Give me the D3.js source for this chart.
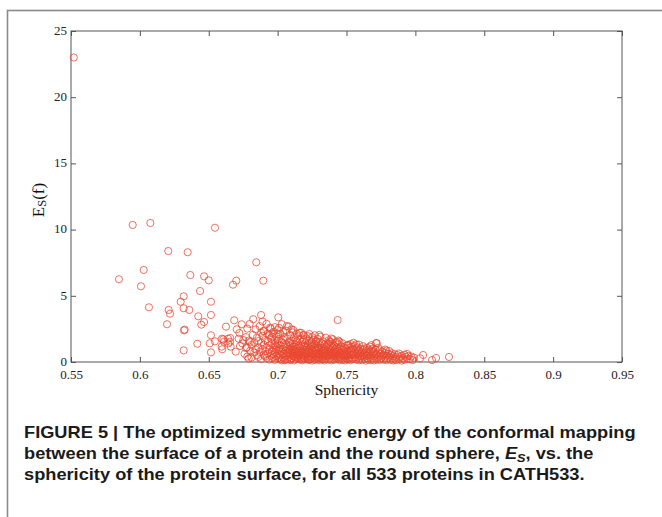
<!DOCTYPE html>
<html><head><meta charset="utf-8">
<script src="https://cdn.jsdelivr.net/npm/d3@7"></script>
<style>html,body{margin:0;padding:0;background:#fff;}svg{display:block;}</style>
</head><body>
<svg id="chart" width="662" height="517"></svg>
<script>
// ---------- data ----------
const xTicks = [0.55, 0.6, 0.65, 0.7, 0.75, 0.8, 0.85, 0.9, 0.95];
const yTicks = [0, 5, 10, 15, 20, 25];
const xLabel = "Sphericity";

// [sphericity, E_S(f)]
const outlierPoints = [[0.552,23.0]];
const sparsePoints = [
[0.5948,10.35],[0.6076,10.5],[0.6545,10.14],[0.6206,8.38],[0.6347,8.29],[0.6845,7.53],
[0.6028,6.95],[0.5848,6.25],[0.6366,6.57],[0.6008,5.72],[0.6466,6.47],[0.650,6.17],
[0.670,6.14],[0.6676,5.84],[0.6896,6.14],[0.6437,5.36],[0.6318,4.96],[0.6296,4.55],[0.6516,4.55],
[0.6066,4.13],[0.6209,3.93],[0.6219,3.65],[0.6318,4.06],[0.6359,3.93],[0.6424,3.45],
[0.6516,3.55],[0.6466,3.02],[0.6446,2.82],[0.6197,2.85],[0.6325,2.44],[0.6320,2.39],
[0.6685,3.15],[0.6739,2.85],[0.6625,2.67],[0.6722,2.19],[0.6823,3.23],[0.6797,2.87],
[0.678,2.52],[0.6516,2.02],[0.6606,1.71],[0.6545,1.56],[0.6417,1.38],[0.6507,1.41],
[0.6318,0.88],[0.6516,0.73],[0.6594,1.16],[0.6656,1.81],[0.6642,1.41],[0.6696,0.78],
[0.6744,1.41],[0.6717,1.76],[0.6727,1.21],[0.6751,1.66],[0.6776,1.11],[0.6799,1.53],
[0.6596,1.76],[0.6611,1.53],[0.664,1.76],[0.6654,1.53],[0.6598,0.96],[0.6659,1.16],
[0.6703,2.47],[0.688,3.55],[0.7005,3.37],[0.7436,3.17],[0.6945,2.59],[0.6896,2.34],
[0.7066,2.72],[0.7114,2.42],[0.7157,2.21],[0.7186,2.04],[0.7302,2.04],[0.6964,2.17],
[0.7005,2.11],[0.7247,1.53],[0.738,1.53],[0.7448,1.53],[0.7513,1.28],[0.7714,1.43]
];
const bandPoints = [
[0.676,0.62],[0.677,1.05],[0.678,0.41],[0.679,1.62],[0.680,0.85],[0.681,1.28],[0.681,0.33],[0.682,2.05],[0.683,0.71],[0.683,1.47],[0.684,0.95],[0.684,2.46],[0.685,0.52],[0.685,1.83],[0.677,1.88],[0.679,0.26],
[0.686,0.38],[0.686,1.12],[0.687,0.77],[0.687,2.71],[0.688,1.45],[0.688,0.22],[0.689,0.96],[0.689,1.98],[0.690,0.55],[0.690,1.31],[0.690,2.33],[0.691,0.81],[0.691,1.66],[0.692,0.31],[0.692,1.08],[0.692,2.88],[0.693,0.64],[0.693,1.52],[0.693,2.14],[0.694,0.92],[0.694,0.18],[0.694,1.24],[0.695,0.47],[0.695,1.79],[0.695,2.52],[0.689,3.05],[0.691,0.42],[0.686,1.58],[0.688,2.21],[0.694,2.02],
[0.696,0.29],[0.696,0.83],[0.696,1.41],[0.697,0.58],[0.697,1.07],[0.697,2.28],[0.698,0.16],[0.698,0.74],[0.698,1.63],[0.698,2.63],[0.699,0.45],[0.699,1.19],[0.699,1.95],[0.700,0.27],[0.700,0.88],[0.700,1.36],[0.700,2.41],[0.701,0.62],[0.701,1.02],[0.701,1.74],[0.702,0.21],[0.702,0.51],[0.702,1.27],[0.702,2.12],[0.703,0.79],[0.703,1.49],[0.703,2.86],[0.704,0.35],[0.704,0.97],[0.704,1.68],[0.704,2.27],[0.705,0.14],[0.705,0.66],[0.705,1.15],[0.705,1.89],[0.697,0.38],[0.699,0.94],[0.701,0.33],[0.703,0.12],[0.700,1.58],[0.702,0.92],[0.704,0.57],[0.696,1.92],[0.698,1.28],[0.701,2.58],
[0.706,0.43],[0.706,0.87],[0.706,1.34],[0.706,2.37],[0.707,0.21],[0.707,0.69],[0.707,1.11],[0.707,1.76],[0.708,0.37],[0.708,0.98],[0.708,1.48],[0.708,2.68],[0.709,0.15],[0.709,0.58],[0.709,1.22],[0.709,2.05],[0.710,0.31],[0.710,0.79],[0.710,1.04],[0.710,1.61],[0.711,0.47],[0.711,0.92],[0.711,1.38],[0.711,2.24],[0.712,0.12],[0.712,0.64],[0.712,1.17],[0.712,1.85],[0.713,0.39],[0.713,0.83],[0.713,1.29],[0.713,0.24],[0.714,0.55],[0.714,1.01],[0.714,1.57],[0.714,2.13],[0.715,0.28],[0.715,0.73],[0.715,1.21],[0.715,1.94],[0.706,0.18],[0.707,0.52],[0.708,0.76],[0.709,0.89],[0.710,0.22],[0.710,2.47],[0.711,0.67],[0.712,0.42],[0.712,0.96],[0.713,1.66],[0.714,0.33],[0.714,0.78],[0.715,0.49],[0.709,1.43],[0.711,1.14],
[0.716,0.19],[0.716,0.61],[0.716,1.08],[0.716,1.71],[0.717,0.36],[0.717,0.86],[0.717,1.33],[0.717,2.21],[0.718,0.13],[0.718,0.52],[0.718,0.97],[0.718,1.52],[0.719,0.29],[0.719,0.74],[0.719,1.18],[0.719,2.02],[0.720,0.45],[0.720,0.91],[0.720,1.41],[0.720,0.21],[0.721,0.63],[0.721,1.06],[0.721,1.78],[0.721,0.34],[0.722,0.17],[0.722,0.82],[0.722,1.26],[0.722,0.54],[0.723,0.41],[0.723,0.99],[0.723,1.61],[0.723,2.11],[0.724,0.26],[0.724,0.68],[0.724,1.14],[0.724,1.46],[0.725,0.11],[0.725,0.57],[0.725,0.94],[0.725,1.88],[0.716,0.44],[0.717,0.71],[0.718,1.24],[0.719,0.48],[0.720,0.66],[0.721,0.92],[0.722,0.31],[0.723,0.76],[0.724,0.39],[0.725,1.29],[0.719,1.66],[0.722,1.95],[0.717,0.24],[0.720,1.17],[0.723,0.18],
[0.726,0.35],[0.726,0.78],[0.726,1.21],[0.726,1.67],[0.727,0.16],[0.727,0.61],[0.727,1.03],[0.727,2.02],[0.728,0.44],[0.728,0.89],[0.728,1.37],[0.728,0.23],[0.729,0.68],[0.729,1.12],[0.729,1.74],[0.729,0.38],[0.730,0.14],[0.730,0.53],[0.730,0.95],[0.730,1.48],[0.731,0.29],[0.731,0.81],[0.731,1.26],[0.731,1.91],[0.732,0.47],[0.732,0.72],[0.732,1.09],[0.732,0.19],[0.733,0.36],[0.733,0.87],[0.733,1.55],[0.733,0.62],[0.734,0.12],[0.734,0.51],[0.734,0.98],[0.734,1.32],[0.735,0.27],[0.735,0.74],[0.735,1.17],[0.735,1.83],[0.726,0.52],[0.727,0.88],[0.728,0.63],[0.729,0.27],[0.730,1.08],[0.731,0.56],[0.732,0.91],[0.733,0.21],[0.734,0.69],[0.735,0.43],[0.728,1.58],[0.732,1.41],[0.730,0.35],[0.734,0.84],[0.727,1.33],
[0.736,0.41],[0.736,0.86],[0.736,1.28],[0.737,0.18],[0.737,0.63],[0.737,1.05],[0.737,1.64],[0.738,0.32],[0.738,0.77],[0.738,1.19],[0.738,1.53],[0.739,0.13],[0.739,0.54],[0.739,0.94],[0.739,1.38],[0.740,0.26],[0.740,0.69],[0.740,1.12],[0.740,1.71],[0.741,0.42],[0.741,0.83],[0.741,1.24],[0.741,0.17],[0.742,0.58],[0.742,0.97],[0.742,1.46],[0.742,0.31],[0.743,0.72],[0.743,1.09],[0.743,0.22],[0.744,0.48],[0.744,0.89],[0.744,1.33],[0.744,1.62],[0.745,0.14],[0.745,0.61],[0.745,1.02],[0.745,0.37],[0.736,0.55],[0.738,0.49],[0.739,0.71],[0.740,0.47],[0.741,0.61],[0.742,0.78],[0.743,0.41],[0.744,0.27],[0.745,0.82],[0.737,1.41],[0.739,1.78],[0.743,1.49],
[0.746,0.29],[0.746,0.73],[0.746,1.18],[0.747,0.16],[0.747,0.52],[0.747,0.94],[0.747,1.42],[0.748,0.38],[0.748,0.81],[0.748,1.11],[0.749,0.12],[0.749,0.63],[0.749,1.03],[0.749,0.44],[0.750,0.26],[0.750,0.71],[0.750,1.24],[0.751,0.47],[0.751,0.87],[0.751,1.28],[0.751,0.19],[0.752,0.35],[0.752,0.67],[0.752,1.07],[0.753,0.14],[0.753,0.56],[0.753,0.92],[0.753,1.36],[0.754,0.31],[0.754,0.76],[0.754,1.14],[0.755,0.22],[0.755,0.59],[0.755,0.98],[0.746,0.48],[0.748,0.59],[0.750,0.49],[0.752,0.24],[0.754,0.52],[0.755,1.45],
[0.756,0.37],[0.756,0.79],[0.756,1.21],[0.757,0.18],[0.757,0.56],[0.757,0.96],[0.758,0.33],[0.758,0.71],[0.758,1.09],[0.759,0.13],[0.759,0.48],[0.759,0.87],[0.759,1.31],[0.760,0.27],[0.760,0.64],[0.760,1.02],[0.761,0.41],[0.761,0.78],[0.761,0.16],[0.762,0.53],[0.762,0.93],[0.762,1.19],[0.763,0.24],[0.763,0.67],[0.763,0.39],[0.764,0.11],[0.764,0.51],[0.764,0.84],[0.765,0.29],[0.765,0.73],[0.765,1.07],[0.757,1.34],[0.760,0.45],[0.763,1.02],[0.765,0.46],
[0.766,0.18],[0.766,0.57],[0.766,0.94],[0.767,0.36],[0.767,0.77],[0.767,1.16],[0.768,0.14],[0.768,0.49],[0.768,0.86],[0.769,0.28],[0.769,0.65],[0.769,1.02],[0.770,0.12],[0.770,0.44],[0.770,0.79],[0.771,0.31],[0.771,0.61],[0.771,0.97],[0.772,0.19],[0.772,0.53],[0.772,1.42],[0.773,0.36],[0.773,0.72],[0.774,0.15],[0.774,0.47],[0.774,0.88],[0.775,0.27],[0.775,0.63],[0.768,1.27],[0.773,1.08],
[0.776,0.41],[0.776,0.79],[0.777,0.17],[0.777,0.56],[0.778,0.33],[0.778,0.68],[0.778,0.94],[0.779,0.14],[0.779,0.48],[0.780,0.27],[0.780,0.62],[0.781,0.39],[0.781,0.83],[0.782,0.16],[0.782,0.53],[0.783,0.31],[0.783,0.66],[0.784,0.12],[0.784,0.44],[0.785,0.26],[0.785,0.58],[0.779,0.87],
[0.786,0.38],[0.786,0.14],[0.787,0.52],[0.788,0.23],[0.788,0.64],[0.789,0.36],[0.790,0.11],[0.790,0.47],[0.791,0.28],[0.792,0.55],[0.792,0.17],[0.793,0.39],[0.794,0.24],[0.795,0.46],[0.794,0.61],
[0.796,0.21],[0.797,0.42],[0.798,0.15],[0.799,0.33],[0.8034,0.28],[0.8056,0.53],[0.8121,0.15],[0.815,0.3],[0.8244,0.38]
];

const captionLines = [
  [{t:"FIGURE 5 | The optimized symmetric energy of the conformal mapping"}],
  [{t:"between the surface of a protein and the round sphere, "},{t:"E",i:true},{t:"S",i:true,sub:true},{t:", vs. the",back:true}],
  [{t:"sphericity of the protein surface, for all 533 proteins in CATH533."}]
];

// ---------- layout ----------
const svg = d3.select("#chart");
const M = {left:71, top:31, right:622, bottom:362};
const x = d3.scaleLinear().domain([0.55,0.95]).range([M.left, M.right]);
const y = d3.scaleLinear().domain([0,25]).range([M.bottom, M.top]);

// outer frame
svg.append("rect").attr("x",7.5).attr("y",10.5).attr("width",700).attr("height",600)
  .attr("fill","none").attr("stroke","#8a8a8a").attr("stroke-width",1.6);

const axisColor = "#555";
const tickFont = "'Liberation Serif','Times New Roman',serif";

function styleAxis(g){
  g.select(".domain").remove();
  g.selectAll(".tick line").attr("stroke",axisColor);
  g.selectAll(".tick text").attr("fill","#222").style("font-family",tickFont).style("font-size","13px");
}
svg.append("g").attr("transform",`translate(0,${M.bottom})`)
  .call(d3.axisBottom(x).tickValues(xTicks).tickFormat(d3.format("")).tickSizeInner(-5).tickSizeOuter(0).tickPadding(8))
  .call(styleAxis);
svg.append("g").attr("transform",`translate(0,${M.top})`)
  .call(d3.axisTop(x).tickValues(xTicks).tickFormat("").tickSizeInner(-5).tickSizeOuter(0))
  .call(styleAxis);
svg.append("g").attr("transform",`translate(${M.left},0)`)
  .call(d3.axisLeft(y).tickValues(yTicks).tickSizeInner(-5).tickSizeOuter(0).tickPadding(4))
  .call(styleAxis)
  .call(g=>g.selectAll(".tick text").attr("dy","0.25em"));
svg.append("g").attr("transform",`translate(${M.right},0)`)
  .call(d3.axisRight(y).tickValues(yTicks).tickFormat("").tickSizeInner(-5).tickSizeOuter(0))
  .call(styleAxis);

svg.append("rect").attr("x",M.left).attr("y",M.top)
  .attr("width",M.right-M.left).attr("height",M.bottom-M.top)
  .attr("fill","none").attr("stroke",axisColor).attr("stroke-width",1);

// points
const allPoints = outlierPoints.concat(sparsePoints, bandPoints);
svg.append("g").selectAll("circle").data(allPoints).join("circle")
  .attr("cx",d=>x(d[0])).attr("cy",d=>y(d[1])).attr("r",3.6)
  .attr("fill","none").attr("stroke","#e8472f").attr("stroke-width",0.9).attr("stroke-opacity",0.85);

// axis labels
svg.append("text").attr("x",(M.left+M.right)/2).attr("y",395).attr("text-anchor","middle")
  .style("font-family",tickFont).style("font-size","15.5px").attr("fill","#111").text(xLabel);
const yl = svg.append("text").attr("transform","translate(44,200) rotate(-90)").attr("text-anchor","middle")
  .style("font-family",tickFont).style("font-size","17px").attr("fill","#111");
yl.append("tspan").text("E");
yl.append("tspan").style("font-size","12.5px").attr("dy",2).text("S");
yl.append("tspan").attr("dy",-2).text("(f)");

// caption
const capFont = "'Liberation Sans',Arial,sans-serif";
const capBase = [438, 459, 480];
const capG = [];
captionLines.forEach((line,li)=>{
  const t = svg.append("text").attr("x",0).attr("y",0)
    .style("font-family",capFont).style("font-size","16.5px").style("font-weight","bold").attr("fill","#1a1a1a");
  line.forEach(seg=>{
    const ts = t.append("tspan").text(seg.t);
    if(seg.i) ts.style("font-style","italic");
    if(seg.sub) ts.style("font-size","11.5px").attr("dy",3);
    if(seg.back) ts.attr("dy",-3);
  });
  capG.push(t);
});
const w0 = capG[0].node().getComputedTextLength();
const sx = 612 / w0;
capG.forEach((t,i)=>t.attr("transform",`translate(24,${capBase[i]}) scale(${sx},1)`));
</script>
</body></html>
